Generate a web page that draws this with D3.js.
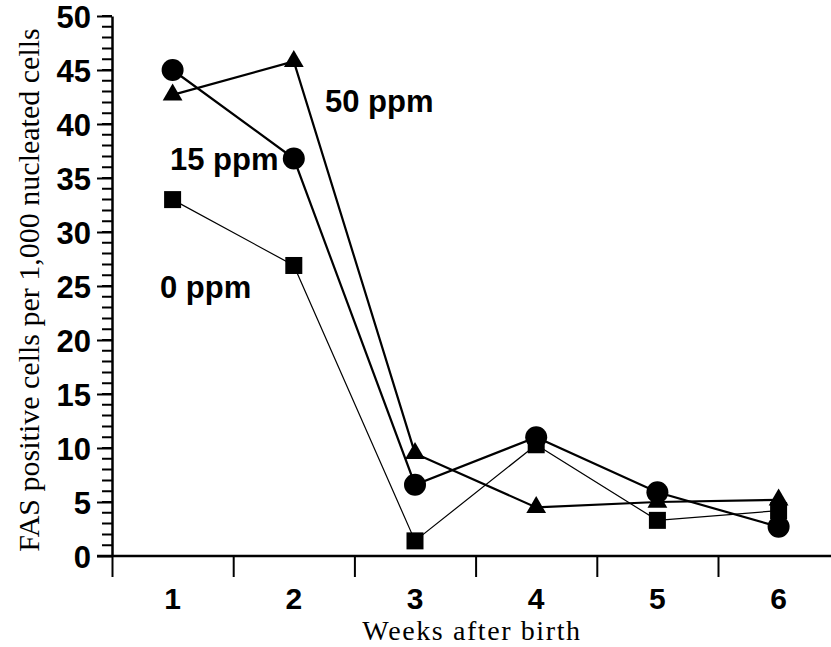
<!DOCTYPE html>
<html>
<head>
<meta charset="utf-8">
<script src="https://cdn.jsdelivr.net/npm/d3@7"></script>
<style>
  html, body { margin: 0; padding: 0; background: #fff; }
  svg { display: block; }
</style>
</head>
<body>
<svg id="chart" width="831" height="647"></svg>
<script>
// ---- data ----
const weeks = [1, 2, 3, 4, 5, 6];
const yTickValues = [0, 5, 10, 15, 20, 25, 30, 35, 40, 45, 50];
const yMinorValues = d3.range(0, 51, 1);
const ppm0  = [33.0, 26.9, 1.4, 10.3, 3.3, 4.2];
const ppm15 = [45.0, 36.8, 6.6, 11.0, 5.9, 2.7];
const ppm50 = [42.7, 45.8, 9.5, 4.5, 5.0, 5.2];
const seriesNames = ["0 ppm", "15 ppm", "50 ppm"];
const xTitle = "Weeks after birth";
const yTitle = "FAS positive cells per 1,000 nucleated cells";

// ---- layout ----
const svg = d3.select("#chart");
const x0 = 112, bandW = 121.2;
const x = d3.scaleBand().domain(weeks).range([x0, x0 + bandW * weeks.length]).padding(0);
const xEdge = d3.scaleLinear().domain([0.5, weeks.length + 0.5]).range([x0, x0 + bandW * weeks.length]);
const y = d3.scaleLinear().domain([0, 50]).range([556, 16]);
const cx = w => x(w) + x.bandwidth() / 2;

const boldFont = "'Liberation Sans', Arial, sans-serif";
const serifFont = "'Liberation Serif', 'Times New Roman', serif";

// y axis major
const yAx = svg.append("g").attr("transform", `translate(${x0},0)`)
  .call(d3.axisLeft(y).tickValues(yTickValues).tickSize(15).tickSizeOuter(0).tickPadding(6));
yAx.select(".domain").attr("stroke", "#000").attr("stroke-width", 2.5);
yAx.selectAll(".tick line").attr("stroke", "#000").attr("stroke-width", 2);
yAx.selectAll("text").attr("font-family", boldFont).attr("font-weight", "bold")
  .attr("font-size", 31).attr("fill", "#000").attr("dy", "0.36em");

// x axis line + boundary ticks
const xAx = svg.append("g").attr("transform", `translate(0,${y(0)})`)
  .call(d3.axisBottom(xEdge).tickValues(d3.range(0.5, weeks.length, 1)).tickSize(21).tickFormat(""));
xAx.select(".domain").remove();
xAx.selectAll(".tick line").attr("stroke", "#000").attr("stroke-width", 2);
svg.append("line").attr("x1", 97).attr("x2", 831).attr("y1", y(0)).attr("y2", y(0))
  .attr("stroke", "#000").attr("stroke-width", 2.5);

// x axis labels (band centres)
const xLab = svg.append("g").attr("transform", `translate(0,${y(0)})`)
  .call(d3.axisBottom(x).tickSize(0).tickPadding(33.5));
xLab.select(".domain").remove();
xLab.selectAll("text").attr("font-family", boldFont).attr("font-weight", "bold")
  .attr("font-size", 30).attr("fill", "#000").attr("dy", "0.65em");

// axis titles
svg.append("text").attr("x", 472).attr("y", 640).attr("text-anchor", "middle")
  .attr("font-family", serifFont).attr("font-size", 28).attr("letter-spacing", 1.6).text(xTitle);
svg.append("text").attr("transform", "translate(39,290) rotate(-90)").attr("text-anchor", "middle")
  .attr("font-family", serifFont).attr("font-size", 30).text(yTitle);

// lines
const line = d3.line().x((d, i) => cx(weeks[i])).y(d => y(d));
const plot = svg.append("g");
plot.append("path").datum(ppm0).attr("d", line).attr("fill", "none").attr("stroke", "#000").attr("stroke-width", 1.2);
plot.append("path").datum(ppm15).attr("d", line).attr("fill", "none").attr("stroke", "#000").attr("stroke-width", 2.2);
plot.append("path").datum(ppm50).attr("d", line).attr("fill", "none").attr("stroke", "#000").attr("stroke-width", 2.2);

// markers
plot.selectAll(".sq").data(ppm0).join("rect")
  .attr("x", (d, i) => cx(weeks[i]) - 8.5).attr("y", d => y(d) - 8.5)
  .attr("width", 17).attr("height", 17).attr("fill", "#000");
plot.selectAll(".tri").data(ppm50).join("path")
  .attr("d", d3.symbol().type(d3.symbolTriangle).size(170))
  .attr("transform", (d, i) => `translate(${cx(weeks[i])},${y(d)})`).attr("fill", "#000");
plot.selectAll(".ci").data(ppm15).join("circle")
  .attr("cx", (d, i) => cx(weeks[i])).attr("cy", d => y(d)).attr("r", 11).attr("fill", "#000");

// series labels
const lab = svg.append("g").attr("font-family", boldFont).attr("font-weight", "bold").attr("font-size", 31).attr("fill", "#000");
lab.append("text").attr("x", 325).attr("y", 112).text(seriesNames[2]);
lab.append("text").attr("x", 170).attr("y", 170).text(seriesNames[1]);
lab.append("text").attr("x", 160).attr("y", 298).text(seriesNames[0]);

// y axis minor ticks (every unit), drawn as one path on top
const mp = d3.path();
yMinorValues.forEach(v => { mp.moveTo(x0 - 10, y(v)); mp.lineTo(x0, y(v)); });
svg.append("path").attr("d", mp.toString()).attr("fill", "none")
  .attr("stroke", "black").attr("stroke-width", 2);
</script>
</body>
</html>
